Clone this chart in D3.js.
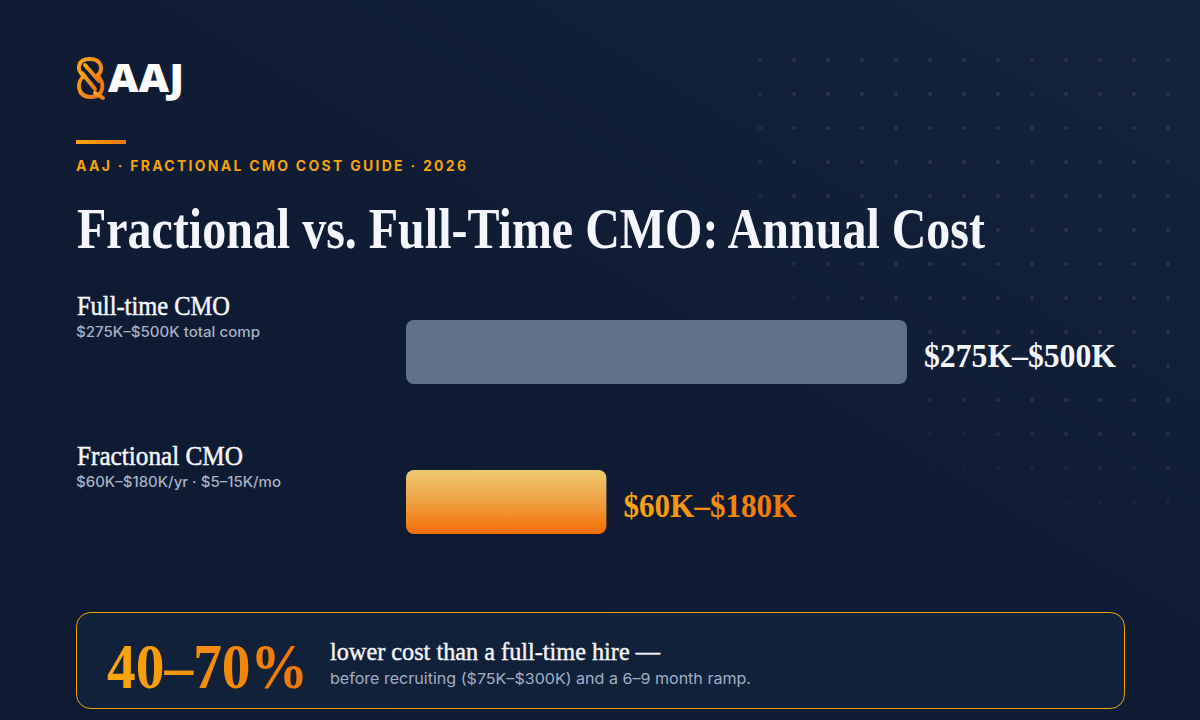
<!DOCTYPE html>
<html>
<head>
<meta charset="utf-8">
<script src="https://cdn.jsdelivr.net/npm/d3@7"></script>
<style>
  html, body { margin: 0; padding: 0; background: #0f1b32; }
  svg { display: block; }
</style>
</head>
<body>
<svg id="chart" width="1200" height="720"></svg>
<script>
// ---------- data ----------
const categories = ["Full-time CMO", "Fractional CMO"];
const subLabels = ["$275K–$500K total comp", "$60K–$180K/yr · $5–15K/mo"];
const rangeLabels = ["$275K–$500K", "$60K–$180K"];
const relativeCost = [100, 40];          // bar length (% of full-time bar)
const eyebrow = "AAJ · FRACTIONAL CMO COST GUIDE · 2026";
const title = "Fractional vs. Full-Time CMO: Annual Cost";
const savingsValue = "40–70%";
const savingsHead = "lower cost than a full-time hire —";
const savingsNote = "before recruiting ($75K–$300K) and a 6–9 month ramp.";

// ---------- setup ----------
const W = 1200, H = 720;
const svg = d3.select("#chart");
const defs = svg.append("defs");
const SERIF = "'Liberation Serif', 'DejaVu Serif', serif";
const SANS = "Inter, 'Noto Sans', sans-serif";

// background gradient
const bg = defs.append("linearGradient").attr("id", "bg")
  .attr("x1", "0").attr("y1", "1").attr("x2", "1").attr("y2", "0");
bg.append("stop").attr("offset", "0").attr("stop-color", "#0d1a31");
bg.append("stop").attr("offset", "0.55").attr("stop-color", "#0f1c34");
bg.append("stop").attr("offset", "1").attr("stop-color", "#15233d");
svg.append("rect").attr("width", W).attr("height", H).attr("fill", "url(#bg)");

// dot grid with radial fade mask
const rg = defs.append("radialGradient").attr("id", "dotFade")
  .attr("gradientUnits", "userSpaceOnUse")
  .attr("cx", 1200).attr("cy", 0).attr("r", 590);
rg.append("stop").attr("offset", "0").attr("stop-color", "#fff");
rg.append("stop").attr("offset", "0.72").attr("stop-color", "#fff");
rg.append("stop").attr("offset", "0.93").attr("stop-color", "#fff").attr("stop-opacity", 0);
const mask = defs.append("mask").attr("id", "dotMask");
mask.append("rect").attr("x", 745).attr("y", 40).attr("width", 455).attr("height", 560)
  .attr("fill", "url(#dotFade)");
const dotXs = d3.range(760, 1190, 34);
const dotYs = d3.range(60, 560, 34);
const dots = svg.append("g").attr("mask", "url(#dotMask)");
dotYs.forEach(y => dotXs.forEach(x => {
  dots.append("circle").attr("cx", x).attr("cy", y).attr("r", 2)
    .attr("fill", "#2b3544");
}));

// orange gradients
const og = defs.append("linearGradient").attr("id", "orangeH")
  .attr("x1", "0").attr("y1", "0").attr("x2", "1").attr("y2", "0");
og.append("stop").attr("offset", "0").attr("stop-color", "#f8a80f");
og.append("stop").attr("offset", "1").attr("stop-color", "#f07408");

const ov = defs.append("linearGradient").attr("id", "orangeV")
  .attr("x1", "0").attr("y1", "0").attr("x2", "0").attr("y2", "1");
ov.append("stop").attr("offset", "0").attr("stop-color", "#eec872");
ov.append("stop").attr("offset", "0.5").attr("stop-color", "#f0a140");
ov.append("stop").attr("offset", "1").attr("stop-color", "#f36d05");

const logoG = defs.append("linearGradient").attr("id", "logoG")
  .attr("x1", "0").attr("y1", "0").attr("x2", "1").attr("y2", "1");
logoG.append("stop").attr("offset", "0").attr("stop-color", "#f9a61a");
logoG.append("stop").attr("offset", "1").attr("stop-color", "#f07410");

// ---------- logo ----------
const logo = svg.append("g").attr("fill", "none").attr("stroke", "url(#logoG)")
  .attr("stroke-width", 4).attr("stroke-linecap", "round").attr("stroke-linejoin", "round");
logo.append("path").attr("d",
  "M84,76 C76,71 77,59 90,59 C102,59 104,70 97,76 C105,81 105,97 91,97 C77,97 76,82 84,76 Z");
logo.append("path").attr("d", "M85,65 L99,81");
logo.append("path").attr("d", "M82,73 L95,89");
logo.append("path").attr("d", "M95,93 L103,98");

svg.append("text").attr("x", 108).attr("y", 92)
  .attr("font-family", "'Open Sans', Inter, sans-serif").attr("font-weight", 800)
  .attr("font-size", 38).attr("fill", "#ffffff")
  .attr("textLength", 76).attr("lengthAdjust", "spacingAndGlyphs")
  .text("AAJ");

// accent line
svg.append("rect").attr("x", 76).attr("y", 140).attr("width", 50).attr("height", 4)
  .attr("fill", "url(#orangeH)");

// eyebrow
svg.append("text").attr("x", 76).attr("y", 171)
  .attr("font-family", SANS).attr("font-weight", 700).attr("font-size", 14)
  .attr("fill", "#f5a30f").attr("textLength", 390).attr("lengthAdjust", "spacing")
  .text(eyebrow);

// title
svg.append("text").attr("x", 77).attr("y", 248)
  .attr("font-family", SERIF).attr("font-weight", 700).attr("font-size", 58)
  .attr("fill", "#f4f6fb").attr("textLength", 908).attr("lengthAdjust", "spacingAndGlyphs")
  .text(title);

// ---------- bars ----------
const x = d3.scaleLinear().domain([0, 100]).range([406, 907]);
const y = d3.scalePoint().domain(categories).range([320, 470]);
const barH = 64;
const barFills = ["#61708b", "url(#orangeV)"];
const valueFills = ["#f4f6fb", "url(#orangeH)"];
const labelWidths = [153, 166];
const subWidths = [184, 205];
const valueWidths = [192, 173];

const rows = svg.selectAll("g.row").data(categories).enter().append("g").attr("class", "row");

rows.append("text")
  .attr("x", 77).attr("y", d => y(d) - 5)
  .attr("font-family", SERIF).attr("font-size", 28).attr("fill", "#f4f6fb")
  .attr("stroke", "#f4f6fb").attr("stroke-width", 0.5)
  .attr("textLength", (d, i) => labelWidths[i]).attr("lengthAdjust", "spacingAndGlyphs")
  .text(d => d);

rows.append("text")
  .attr("x", 76).attr("y", d => y(d) + 17)
  .attr("font-family", SANS).attr("font-weight", 500).attr("font-size", 14)
  .attr("fill", "#a7b2c5")
  .attr("textLength", (d, i) => subWidths[i]).attr("lengthAdjust", "spacingAndGlyphs")
  .text((d, i) => subLabels[i]);

rows.append("rect")
  .attr("x", x(0)).attr("y", d => y(d))
  .attr("width", (d, i) => x(relativeCost[i]) - x(0)).attr("height", barH)
  .attr("rx", 8).attr("fill", (d, i) => barFills[i]);

rows.append("text")
  .attr("x", (d, i) => x(relativeCost[i]) + 17).attr("y", d => y(d) + 47)
  .attr("font-family", SERIF).attr("font-weight", 700).attr("font-size", 34)
  .attr("fill", (d, i) => valueFills[i])
  .attr("textLength", (d, i) => valueWidths[i]).attr("lengthAdjust", "spacingAndGlyphs")
  .text((d, i) => rangeLabels[i]);

// ---------- savings box ----------
svg.append("rect").attr("x", 76.5).attr("y", 612.5).attr("width", 1048).attr("height", 96)
  .attr("rx", 14).attr("fill", "#12213a").attr("stroke", "#f5a60a").attr("stroke-width", 1);

svg.append("text").attr("x", 107).attr("y", 688)
  .attr("font-family", SERIF).attr("font-weight", 700).attr("font-size", 64).attr("fill", "url(#orangeH)")
  .attr("textLength", 201).attr("lengthAdjust", "spacingAndGlyphs")
  .text(savingsValue);

svg.append("text").attr("x", 330).attr("y", 660)
  .attr("font-family", SERIF).attr("font-size", 26).attr("fill", "#f4f6fb")
  .attr("stroke", "#f4f6fb").attr("stroke-width", 0.4)
  .attr("textLength", 330).attr("lengthAdjust", "spacingAndGlyphs")
  .text(savingsHead);

svg.append("text").attr("x", 330).attr("y", 684)
  .attr("font-family", SANS).attr("font-size", 15).attr("fill", "#a3afc3")
  .attr("textLength", 421).attr("lengthAdjust", "spacingAndGlyphs")
  .text(savingsNote);
</script>
</body>
</html>
